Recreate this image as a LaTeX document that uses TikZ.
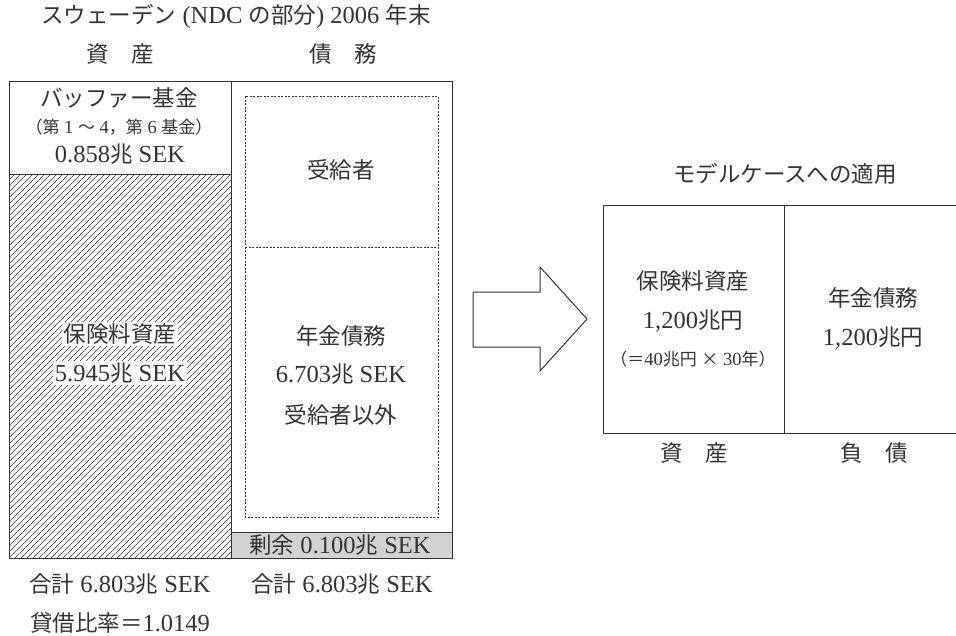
\documentclass[tikz,border=0pt]{standalone}
\usepackage{fontspec}
\setmainfont{Liberation Serif}[Scale=1.09]
\newfontfamily\jp{Noto Sans CJK JP}
\newcommand\J[1]{{\jp #1}}
\definecolor{ink}{HTML}{333333}
\definecolor{surplus}{HTML}{D2D2D2}
\begin{document}
\begin{tikzpicture}[x=1pt,y=-1pt,
  txt/.style={inner sep=0pt, text=ink, font=\fontsize{22.5}{26}\selectfont},
  smalltxt/.style={inner sep=0pt, text=ink, font=\fontsize{17}{20}\selectfont},
  frame/.style={draw=ink, line width=1pt},
  dotframe/.style={draw=ink, line width=0.7pt, dash pattern=on 2pt off 1.5pt},
  hatch/.style={draw=ink, line width=0.6pt},
  whitebg/.style={fill=white, inner sep=1.5pt}]
\useasboundingbox (0,0) rectangle (956,635);

% hatched premium asset area
\begin{scope}
  \clip (9,174) rectangle (231,558);
  \foreach \i in {-390,-384,...,230} \draw[hatch] (9+\i,558) -- ++(390,-390);
\end{scope}

% surplus
\fill[surplus] (231,532) rectangle (452,558);

% left balance sheet frames
\draw[frame] (9,81) rectangle (452,558);
\draw[frame] (231,81) -- (231,558);
\draw[frame] (9,174) -- (231,174);
\draw[frame] (231,532) -- (452,532);
\draw[dotframe] (245,96) rectangle (438,517);
\draw[dotframe] (245,247) -- (438,247);

% texts left
\node[txt] (title) at (236,17) {\J{スウェーデン} (NDC \J{の部分}) 2006 \J{年末}};
\node[txt] (hAsset) at (120,54) {\J{資　産}};
\node[txt] (hDebt) at (343,54) {\J{債　務}};
\node[txt] (buf) at (119,98) {\J{バッファー基金}};
\node[smalltxt] (bufsub) at (119,127) {\J{（第} 1 \J{～} 4\J{，第} 6 \J{基金）}};
\node[txt] (bufval) at (120,154) {0.858\J{兆} SEK};
\node[txt] (recv) at (341,170) {\J{受給者}};
\node[txt, whitebg] (prem) at (120,334) {\J{保険料資産}};
\node[txt, whitebg] (premval) at (120,373) {5.945\J{兆} SEK};
\node[txt] (pens) at (341,336) {\J{年金債務}};
\node[txt] (pensval) at (341,374) {6.703\J{兆} SEK};
\node[txt] (nonrecv) at (341,415) {\J{受給者以外}};
\node[txt] (surp) at (340,545) {\J{剰余} 0.100\J{兆} SEK};
\node[txt] (totA) at (120,584) {\J{合計} 6.803\J{兆} SEK};
\node[txt] (totL) at (342,584) {\J{合計} 6.803\J{兆} SEK};
\node[txt] (ratio) at (120,623) {\J{貸借比率＝}1.0149};

% block arrow
\draw[frame] (473,292) -- (540,292) -- (540,267) -- (587,319) -- (540,371) -- (540,347) -- (473,347) -- cycle;

% right model case
\node[txt] (model) at (785,174) {\J{モデルケースへの適用}};
\draw[frame] (956,205) -- (603,205) -- (603,433) -- (956,433);
\draw[frame] (784,205) -- (784,433);
\node[txt] (mprem) at (693,281) {\J{保険料資産}};
\node[txt] (mpremval) at (693,321) {1,200\J{兆円}};
\node[smalltxt] (mcalc) at (693,359) {\J{（＝}40\J{兆円} \J{×} 30\J{年）}};
\node[txt] (mpens) at (873,298) {\J{年金債務}};
\node[txt] (mpensval) at (873,338) {1,200\J{兆円}};
\node[txt] (mA) at (694,453) {\J{資　産}};
\node[txt] (mL) at (874,453) {\J{負　債}};
\end{tikzpicture}
\end{document}
